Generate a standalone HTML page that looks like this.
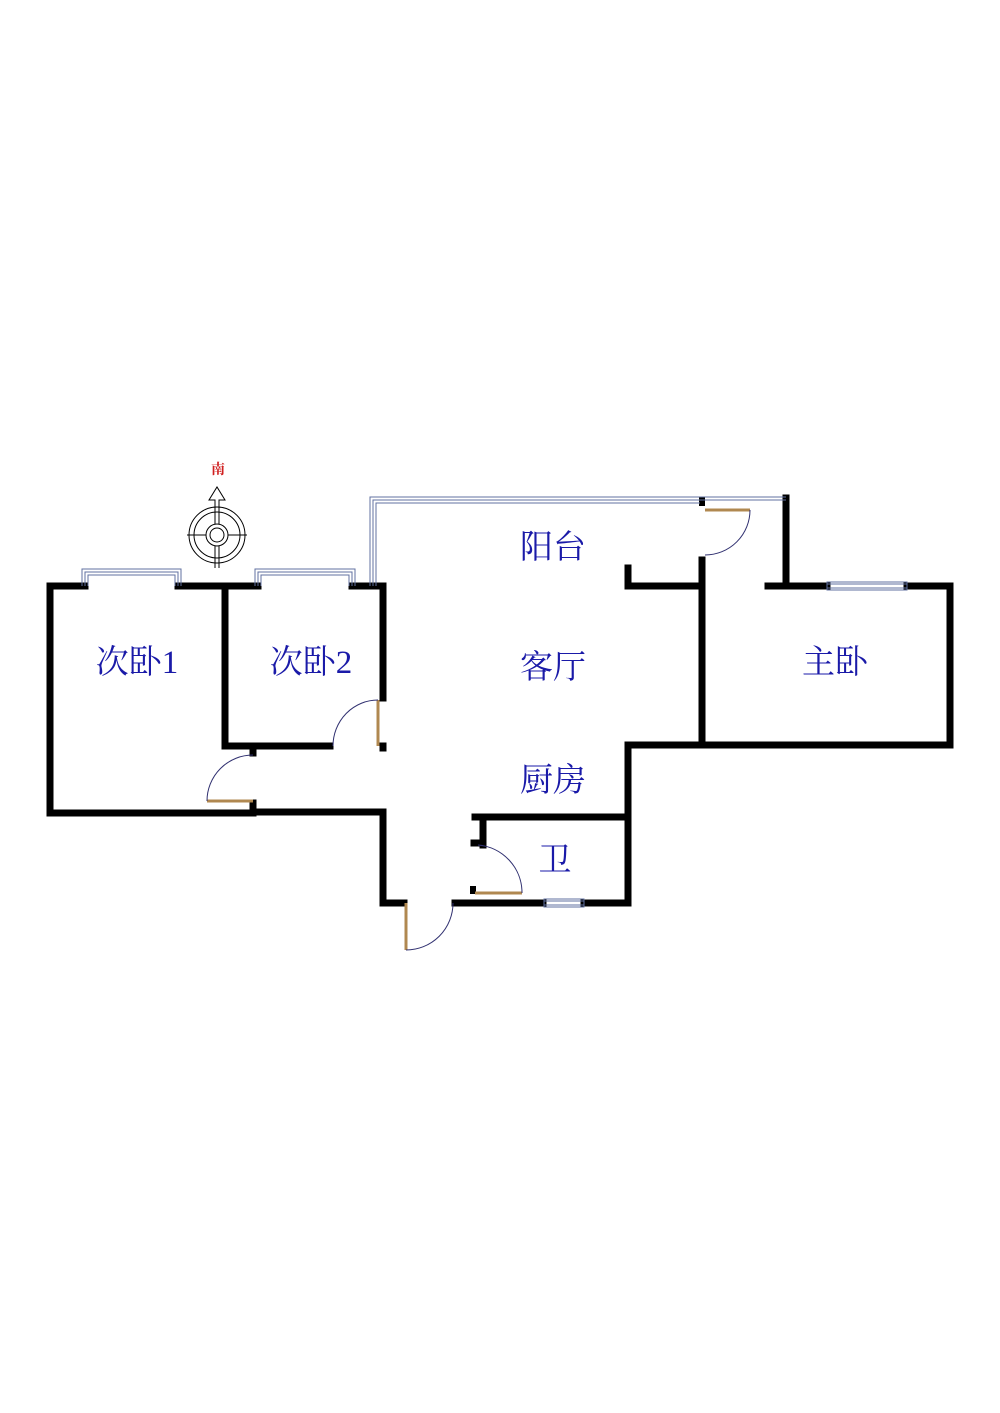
<!DOCTYPE html>
<html><head><meta charset="utf-8"><style>
html,body{margin:0;padding:0;background:#fff;}
svg{display:block;}
text{font-family:"Liberation Serif","Noto Serif CJK SC","Noto Sans CJK SC",serif;}
</style></head><body>
<svg width="1000" height="1413" viewBox="0 0 1000 1413" xmlns="http://www.w3.org/2000/svg">
<rect width="1000" height="1413" fill="#fff"/>
<g stroke="#000" stroke-width="7" fill="none" stroke-linecap="square">
<!-- bed1 / bed2 top -->
<polyline points="50,813 50,586 85,586"/>
<line x1="178" y1="586" x2="258" y2="586"/>
<line x1="352" y1="586" x2="383" y2="586"/>
<line x1="225" y1="586" x2="225" y2="746"/>
<line x1="225" y1="746" x2="330" y2="746"/>
<line x1="383" y1="586" x2="383" y2="698"/>
<line x1="383" y1="746" x2="383" y2="748"/>
<line x1="253" y1="748" x2="253" y2="753"/>
<line x1="50" y1="813" x2="253" y2="813"/>
<polyline points="253,803 253,812 383,812 383,903 404,903"/>
<line x1="455" y1="903" x2="543" y2="903"/>
<line x1="584" y1="903" x2="628" y2="903"/>
<!-- bathroom -->
<polyline points="475,817 628,817"/>
<line x1="483" y1="817" x2="483" y2="845"/>
<line x1="474" y1="843" x2="483" y2="843"/>
<line x1="628" y1="745" x2="628" y2="903"/>
<!-- kitchen/living right -->
<line x1="628" y1="745" x2="950" y2="745"/>
<line x1="702" y1="560" x2="702" y2="745"/>
<polyline points="628,568 628,586 702,586"/>
<!-- master -->
<line x1="786" y1="498" x2="786" y2="586"/>
<polyline points="768,586 827,586"/>
<polyline points="907,586 950,586 950,745"/>
</g>
<rect x="470" y="886" width="6" height="8" fill="#000"/>
<rect x="699" y="497" width="6" height="9" fill="#000"/>
<!-- windows -->
<g fill="none" stroke="#6070a0" stroke-width="1">
<polyline points="82,586 82,569 181,569 181,586"/>
<polyline points="85,586 85,572 178,572 178,586"/>
<polyline points="88,586 88,575 175,575 175,586"/>
<polyline points="255,586 255,569 355,569 355,586"/>
<polyline points="258,586 258,572 352,572 352,586"/>
<polyline points="261,586 261,575 349,575 349,586"/>
<polyline points="370,586 370,497 786,497"/>
<polyline points="373,586 373,500 786,500"/>
<polyline points="376,586 376,503 700,503"/>
<line x1="827" y1="584" x2="907" y2="584"/><line x1="827" y1="588" x2="907" y2="588"/>
<line x1="544" y1="901" x2="584" y2="901"/><line x1="544" y1="905" x2="584" y2="905"/>
<rect x="544" y="899" width="40" height="8"/>
<rect x="827" y="582" width="80" height="8"/>
</g>
<!-- doors -->
<g stroke="#b08850" stroke-width="3">
<line x1="378" y1="700" x2="378" y2="746"/>
<line x1="207" y1="801" x2="253" y2="801"/>
<line x1="406" y1="903" x2="406" y2="950"/>
<line x1="475" y1="893" x2="522" y2="893"/>
<line x1="705" y1="510" x2="750" y2="510"/>
</g>
<g stroke="#303070" stroke-width="1" fill="none">
<path d="M333,746 A45,46 0 0 1 378,700"/>
<path d="M207,801 A46,46 0 0 1 253,755"/>
<path d="M406,950 A47,47 0 0 0 453,903"/>
<path d="M522,893 A48,48 0 0 0 478,845"/>
<path d="M750,510 A45,45 0 0 1 705,555"/>
</g>
<!-- compass -->
<g stroke="#000" stroke-width="1" fill="none">
<circle cx="217" cy="535" r="28"/><circle cx="217" cy="535" r="23"/>
<circle cx="217" cy="535" r="11"/><circle cx="217" cy="535" r="7"/>
<line x1="187" y1="535" x2="206" y2="535"/><line x1="228" y1="535" x2="247" y2="535"/>
<line x1="215" y1="546" x2="215" y2="568"/><line x1="219" y1="546" x2="219" y2="568"/>
<polyline points="215,524 215,500 209,500 217,487 225,500 219,500 219,524"/>
</g>
<text x="218" y="474" font-size="14" fill="#d02020" text-anchor="middle" font-weight="bold">南</text>
<g fill="#1a1aa8" font-size="33" text-anchor="middle">
<text x="137" y="673">次卧1</text>
<text x="311" y="673">次卧2</text>
<text x="553" y="558">阳台</text>
<text x="553" y="678">客厅</text>
<text x="553" y="791">厨房</text>
<text x="835" y="673">主卧</text>
<text x="555" y="871">卫</text>
</g>
</svg>
</body></html>
